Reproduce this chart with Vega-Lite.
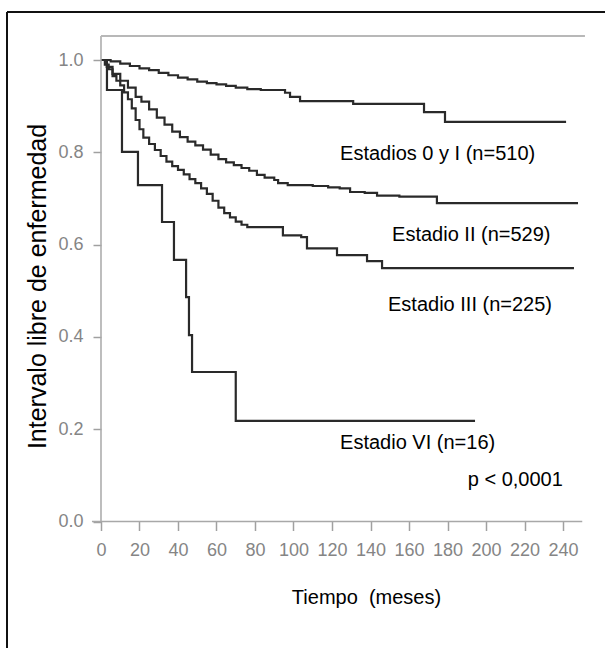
{
  "$schema": "https://vega.github.io/schema/vega-lite/v6.json",
  "width": 598,
  "height": 636,
  "autosize": {"type": "none"},
  "padding": {"left": 7, "top": 12, "right": 0, "bottom": 0},
  "background": "white",
  "config": {"view": {"stroke": null}, "font": "Liberation Sans"},
  "datasets": {
    "curves": [
      {"stage": "0-I", "m": 0, "s": 1.0},
      {"stage": "0-I", "m": 5, "s": 0.997},
      {"stage": "0-I", "m": 10, "s": 0.992},
      {"stage": "0-I", "m": 15, "s": 0.987},
      {"stage": "0-I", "m": 20, "s": 0.982},
      {"stage": "0-I", "m": 25, "s": 0.978},
      {"stage": "0-I", "m": 30, "s": 0.972},
      {"stage": "0-I", "m": 35, "s": 0.967},
      {"stage": "0-I", "m": 40, "s": 0.962},
      {"stage": "0-I", "m": 45, "s": 0.958},
      {"stage": "0-I", "m": 50, "s": 0.953},
      {"stage": "0-I", "m": 55, "s": 0.95},
      {"stage": "0-I", "m": 60, "s": 0.947},
      {"stage": "0-I", "m": 65, "s": 0.944},
      {"stage": "0-I", "m": 70, "s": 0.94},
      {"stage": "0-I", "m": 76, "s": 0.937},
      {"stage": "0-I", "m": 83, "s": 0.935},
      {"stage": "0-I", "m": 95.6, "s": 0.929},
      {"stage": "0-I", "m": 98.2, "s": 0.92},
      {"stage": "0-I", "m": 103.4, "s": 0.911},
      {"stage": "0-I", "m": 131, "s": 0.905},
      {"stage": "0-I", "m": 167.8, "s": 0.887},
      {"stage": "0-I", "m": 178.7, "s": 0.866},
      {"stage": "0-I", "m": 241.6, "s": 0.866},

      {"stage": "II", "m": 0, "s": 1.0},
      {"stage": "II", "m": 3, "s": 0.985},
      {"stage": "II", "m": 6, "s": 0.97},
      {"stage": "II", "m": 10, "s": 0.955},
      {"stage": "II", "m": 14, "s": 0.94},
      {"stage": "II", "m": 18, "s": 0.92},
      {"stage": "II", "m": 21, "s": 0.91},
      {"stage": "II", "m": 25, "s": 0.893},
      {"stage": "II", "m": 29, "s": 0.875},
      {"stage": "II", "m": 33, "s": 0.86},
      {"stage": "II", "m": 37, "s": 0.845},
      {"stage": "II", "m": 41, "s": 0.833},
      {"stage": "II", "m": 45, "s": 0.823},
      {"stage": "II", "m": 49, "s": 0.815},
      {"stage": "II", "m": 53, "s": 0.806},
      {"stage": "II", "m": 57, "s": 0.795},
      {"stage": "II", "m": 61, "s": 0.785},
      {"stage": "II", "m": 65, "s": 0.778},
      {"stage": "II", "m": 69, "s": 0.772},
      {"stage": "II", "m": 73, "s": 0.766},
      {"stage": "II", "m": 77, "s": 0.76},
      {"stage": "II", "m": 81, "s": 0.751},
      {"stage": "II", "m": 85, "s": 0.745},
      {"stage": "II", "m": 90, "s": 0.74},
      {"stage": "II", "m": 92, "s": 0.733},
      {"stage": "II", "m": 97, "s": 0.729},
      {"stage": "II", "m": 110, "s": 0.727},
      {"stage": "II", "m": 118, "s": 0.724},
      {"stage": "II", "m": 124, "s": 0.722},
      {"stage": "II", "m": 129.4, "s": 0.714},
      {"stage": "II", "m": 137, "s": 0.712},
      {"stage": "II", "m": 143.4, "s": 0.706},
      {"stage": "II", "m": 155, "s": 0.704},
      {"stage": "II", "m": 174.5, "s": 0.69},
      {"stage": "II", "m": 247.8, "s": 0.69},

      {"stage": "III", "m": 0, "s": 1.0},
      {"stage": "III", "m": 2, "s": 0.99},
      {"stage": "III", "m": 4, "s": 0.98},
      {"stage": "III", "m": 6, "s": 0.965},
      {"stage": "III", "m": 8, "s": 0.955},
      {"stage": "III", "m": 10, "s": 0.945},
      {"stage": "III", "m": 12, "s": 0.93},
      {"stage": "III", "m": 14, "s": 0.915},
      {"stage": "III", "m": 16, "s": 0.895},
      {"stage": "III", "m": 18, "s": 0.87},
      {"stage": "III", "m": 20, "s": 0.85},
      {"stage": "III", "m": 22, "s": 0.832},
      {"stage": "III", "m": 25, "s": 0.818},
      {"stage": "III", "m": 28, "s": 0.805},
      {"stage": "III", "m": 31, "s": 0.792},
      {"stage": "III", "m": 34, "s": 0.78},
      {"stage": "III", "m": 37, "s": 0.77},
      {"stage": "III", "m": 40, "s": 0.762},
      {"stage": "III", "m": 43, "s": 0.752},
      {"stage": "III", "m": 46, "s": 0.742},
      {"stage": "III", "m": 49, "s": 0.733},
      {"stage": "III", "m": 52, "s": 0.722},
      {"stage": "III", "m": 55, "s": 0.71},
      {"stage": "III", "m": 58, "s": 0.695},
      {"stage": "III", "m": 61, "s": 0.68},
      {"stage": "III", "m": 64, "s": 0.668},
      {"stage": "III", "m": 67, "s": 0.659},
      {"stage": "III", "m": 70, "s": 0.65},
      {"stage": "III", "m": 73, "s": 0.643},
      {"stage": "III", "m": 76, "s": 0.638},
      {"stage": "III", "m": 94.5, "s": 0.62},
      {"stage": "III", "m": 104, "s": 0.616},
      {"stage": "III", "m": 107, "s": 0.592},
      {"stage": "III", "m": 122.6, "s": 0.577},
      {"stage": "III", "m": 138.2, "s": 0.564},
      {"stage": "III", "m": 146, "s": 0.549},
      {"stage": "III", "m": 245.7, "s": 0.549},

      {"stage": "VI", "m": 0, "s": 1.0},
      {"stage": "VI", "m": 3.1, "s": 0.935},
      {"stage": "VI", "m": 10.9, "s": 0.801},
      {"stage": "VI", "m": 19.2, "s": 0.729},
      {"stage": "VI", "m": 31.7, "s": 0.649},
      {"stage": "VI", "m": 37.9, "s": 0.567},
      {"stage": "VI", "m": 44.2, "s": 0.486},
      {"stage": "VI", "m": 45.7, "s": 0.404},
      {"stage": "VI", "m": 47.3, "s": 0.324},
      {"stage": "VI", "m": 70, "s": 0.218},
      {"stage": "VI", "m": 194.3, "s": 0.218}
    ],
    "labels": [
      {"label": "Estadios 0 y I (n=510)", "m": 124.2, "s": 0.797},
      {"label": "Estadio II (n=529)", "m": 151.2, "s": 0.621},
      {"label": "Estadio III (n=225)", "m": 149.1, "s": 0.469},
      {"label": "Estadio VI (n=16)", "m": 124.2, "s": 0.170},
      {"label": "p < 0,0001", "m": 190.5, "s": 0.090}
    ],
    "one": [{}]
  },
  "layer": [
    {
      "data": {"name": "curves"},
      "mark": {"type": "line", "interpolate": "step-after", "color": "#2a2a2a", "strokeWidth": 2.2},
      "encoding": {
        "x": {
          "field": "m", "type": "quantitative",
          "scale": {"domain": [-48.831, 261.818], "nice": false, "zero": false},
          "axis": {
            "values": [0, 20, 40, 60, 80, 100, 120, 140, 160, 180, 200, 220, 240],
            "offset": -126.5, "domain": false, "grid": false,
            "tickSize": 9, "tickColor": "#a0a0a0", "tickWidth": 1.5,
            "labelColor": "#858585", "labelFontSize": 18, "labelPadding": 11,
            "labelFlush": false, "labelOverlap": false,
            "title": "Tiempo\u00a0 (meses)", "titleFontSize": 20, "titleFontWeight": "normal",
            "titleColor": "black", "titleX": 359, "titleY": 82,
            "titleAlign": "center", "titleBaseline": "alphabetic"
          }
        },
        "y": {
          "field": "s", "type": "quantitative",
          "scale": {"domain": [-0.2741, 1.10401], "nice": false, "zero": false},
          "axis": {
            "values": [0, 0.2, 0.4, 0.6, 0.8, 1.0], "format": ".1f",
            "offset": -94, "domain": false, "grid": false,
            "tickSize": 8, "tickColor": "#a0a0a0", "tickWidth": 1.5,
            "labelColor": "#858585", "labelFontSize": 18, "labelPadding": 10,
            "labelFlush": false, "labelOverlap": false,
            "title": "Intervalo libre de enfermedad", "titleFontSize": 25, "titleFontWeight": "normal",
            "titleColor": "black", "titleX": -64, "titleY": 274, "titleAngle": -90,
            "titleAlign": "center", "titleBaseline": "middle"
          }
        },
        "detail": {"field": "stage"}
      }
    },
    {
      "data": {"name": "one"},
      "mark": {"type": "rule", "color": "#111111", "strokeWidth": 2},
      "encoding": {
        "x": {"datum": -48.831, "type": "quantitative"},
        "y": {"datum": -0.2741, "type": "quantitative"},
        "y2": {"datum": 1.10401}
      }
    },
    {
      "data": {"name": "one"},
      "mark": {"type": "rule", "color": "#111111", "strokeWidth": 2},
      "encoding": {
        "x": {"datum": -48.831, "type": "quantitative"},
        "x2": {"datum": 261.818},
        "y": {"datum": 1.10401, "type": "quantitative"}
      }
    },
    {
      "data": {"name": "one"},
      "mark": {"type": "rule", "color": "#a8a8a8", "strokeWidth": 1.5},
      "encoding": {
        "x": {"datum": 0, "type": "quantitative"},
        "y": {"datum": 0, "type": "quantitative"},
        "y2": {"datum": 1.052}
      }
    },
    {
      "data": {"name": "one"},
      "mark": {"type": "rule", "color": "#a8a8a8", "strokeWidth": 1.5},
      "encoding": {
        "x": {"datum": -4.7, "type": "quantitative"},
        "x2": {"datum": 250},
        "y": {"datum": 0, "type": "quantitative"}
      }
    },
    {
      "data": {"name": "one"},
      "mark": {"type": "rule", "color": "#b8b8b8", "strokeWidth": 2},
      "encoding": {
        "x": {"datum": 0, "type": "quantitative"},
        "x2": {"datum": 251.4},
        "y": {"datum": 1.052, "type": "quantitative"}
      }
    },
    {
      "data": {"name": "labels"},
      "mark": {"type": "text", "align": "left", "baseline": "middle", "fontSize": 20, "color": "black"},
      "encoding": {
        "x": {"field": "m", "type": "quantitative"},
        "y": {"field": "s", "type": "quantitative"},
        "text": {"field": "label"}
      }
    }
  ]
}
